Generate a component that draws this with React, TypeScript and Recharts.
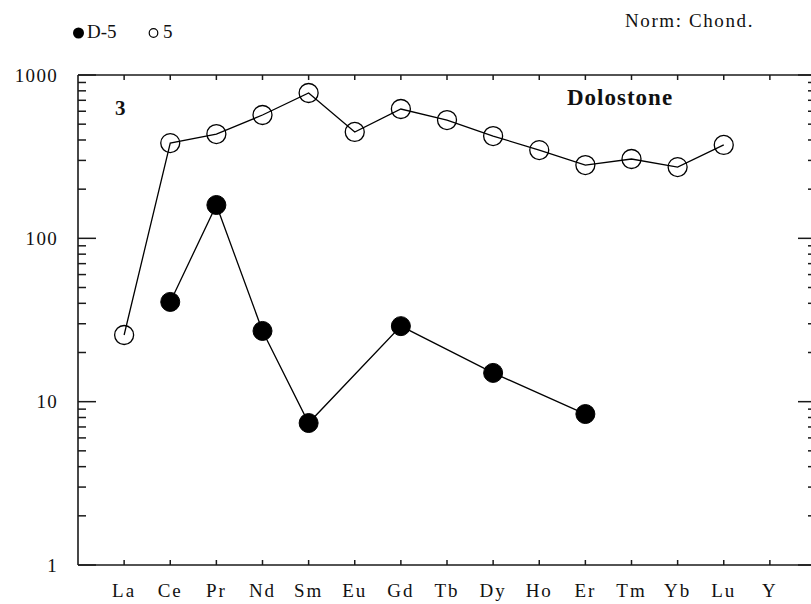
import React from 'react';
import { LineChart, Line, XAxis, YAxis } from 'recharts';

const elements = ['La', 'Ce', 'Pr', 'Nd', 'Sm', 'Eu', 'Gd', 'Tb', 'Dy', 'Ho', 'Er', 'Tm', 'Yb', 'Lu', 'Y'];
const sample5: (number | null)[] = [25.6, 383, 435, 569, 776, 448, 619, 530, 423, 347, 281, 306, 273, 373, null];
const sampleD5: (number | null)[] = [null, 40.8, 160, 27.1, 7.4, null, 29, null, 15, null, 8.4, null, null, null, null];
const yTicks = [1, 2, 3, 4, 5, 6, 7, 8, 9, 10, 20, 30, 40, 50, 60, 70, 80, 90, 100, 200, 300, 400, 500, 600, 700, 800, 900, 1000];
const yLabels = [1, 10, 100, 1000];
const xTicks = elements.map((_, i) => i + 1);

const data = elements.map((el, i) => ({ idx: i + 1, el, s5: sample5[i], d5: sampleD5[i] }));

const FONT = '"Liberation Serif", "Times New Roman", serif';
const AX = '#1a1a1a';

const LeftTick = (props: any) => {
  const { x, y, payload } = props;
  const v = payload.value;
  const major = yLabels.includes(v);
  const ax = x + 20;
  return (
    <g>
      <line x1={ax} x2={ax + (major ? 18 : 8)} y1={y} y2={y} stroke={AX} strokeWidth={1.5} />
      {major && (
        <text x={x} y={y} dy="0.35em" textAnchor="end" fontFamily={FONT} fontSize={19} letterSpacing={1.3} fill="#111">
          {v}
        </text>
      )}
    </g>
  );
};

const RightTick = (props: any) => {
  const { x, y, payload } = props;
  const major = yLabels.includes(payload.value);
  return <line x1={x} x2={x - (major ? 18 : 8)} y1={y} y2={y} stroke={AX} strokeWidth={1.5} />;
};

const BottomTick = (props: any) => {
  const { x, y, payload } = props;
  return (
    <g>
      <line x1={x} x2={x} y1={y} y2={y - 5} stroke={AX} strokeWidth={1.5} />
      <text x={x} y={y + 32} textAnchor="middle" fontFamily={FONT} fontSize={19} letterSpacing={2} fill="#111">
        {elements[payload.value - 1]}
      </text>
    </g>
  );
};

const TopTick = (props: any) => {
  const { x, y } = props;
  return <line x1={x} x2={x} y1={y} y2={y + 5} stroke={AX} strokeWidth={1.5} />;
};

const OpenDot = (p: any) => {
  if (p.value == null || p.cx == null || p.cy == null) return <g key={p.key} />;
  return <circle key={p.key} cx={p.cx} cy={p.cy} r={9.5} fill="none" stroke="#000" strokeWidth={1.3} />;
};

const FilledDot = (p: any) => {
  if (p.value == null || p.cx == null || p.cy == null) return <g key={p.key} />;
  return <circle key={p.key} cx={p.cx} cy={p.cy} r={9.5} fill="#000" stroke="#000" strokeWidth={1} />;
};

export default function App() {
  return (
    <div style={{ position: 'absolute', left: 0, top: 0, width: 811, height: 604, overflow: 'hidden', background: '#fff' }}>
      <LineChart width={830} height={604} data={data} margin={{ top: 0, right: 0, bottom: 0, left: 0 }}>
        <XAxis
          xAxisId="b"
          dataKey="idx"
          type="number"
          domain={[0, 16]}
          ticks={xTicks}
          orientation="bottom"
          height={39}
          tickSize={0}
          tickMargin={0}
          tickLine={false}
          tick={<BottomTick />}
          axisLine={{ stroke: AX, strokeWidth: 1.6 }}
          interval={0}
          allowDataOverflow
        />
        <XAxis
          xAxisId="t"
          dataKey="idx"
          type="number"
          domain={[0, 16]}
          ticks={xTicks}
          orientation="top"
          height={75}
          tickSize={0}
          tickMargin={0}
          tickLine={false}
          tick={<TopTick />}
          axisLine={{ stroke: AX, strokeWidth: 1.6 }}
          interval={0}
          allowDataOverflow
        />
        <YAxis
          yAxisId="l"
          scale="log"
          type="number"
          domain={[1, 1000]}
          ticks={yTicks}
          orientation="left"
          width={78}
          tickSize={0}
          tickMargin={20}
          tickLine={false}
          tick={<LeftTick />}
          axisLine={{ stroke: AX, strokeWidth: 1.6 }}
          interval={0}
          allowDataOverflow
        />
        <YAxis
          yAxisId="r"
          scale="log"
          type="number"
          domain={[1, 1000]}
          ticks={yTicks}
          orientation="right"
          width={14}
          tickSize={0}
          tickMargin={0}
          tickLine={false}
          tick={<RightTick />}
          axisLine={{ stroke: AX, strokeWidth: 1.6 }}
          interval={0}
          allowDataOverflow
        />
        <Line
          xAxisId="b"
          yAxisId="l"
          dataKey="s5"
          stroke="#000"
          strokeWidth={1.3}
          dot={OpenDot}
          connectNulls
          isAnimationActive={false}
          legendType="none"
        />
        <Line
          xAxisId="b"
          yAxisId="l"
          dataKey="d5"
          stroke="#000"
          strokeWidth={1.3}
          dot={FilledDot}
          connectNulls
          isAnimationActive={false}
          legendType="none"
        />
      </LineChart>
      <svg width={811} height={604} style={{ position: 'absolute', left: 0, top: 0, pointerEvents: 'none' }}>
        <circle cx={78.5} cy={33} r={5.5} fill="#000" />
        <text x={87} y={38} fontFamily={FONT} fontSize={19} fill="#111">D-5</text>
        <circle cx={153.5} cy={33} r={4.3} fill="none" stroke="#000" strokeWidth={1.2} />
        <text x={163} y={38} fontFamily={FONT} fontSize={19} fill="#111">5</text>
        <text x={625} y={27} fontFamily={FONT} fontSize={19} letterSpacing={1.6} fill="#111">Norm: Chond.</text>
        <text x={567} y={105} fontFamily={FONT} fontSize={23} fontWeight="bold" letterSpacing={1} fill="#111">Dolostone</text>
        <text x={115} y={115} fontFamily={FONT} fontSize={21} fontWeight="bold" fill="#111">3</text>
      </svg>
    </div>
  );
}
